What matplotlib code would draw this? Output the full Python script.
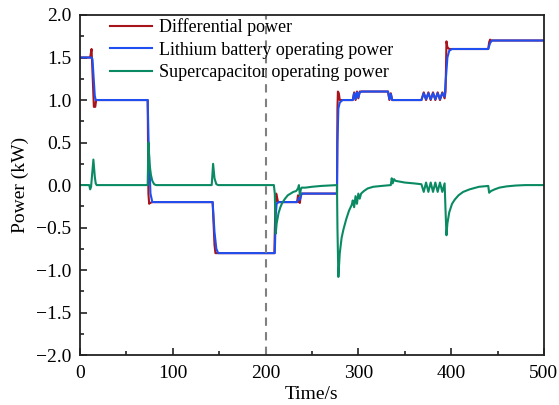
import numpy as np
import matplotlib
matplotlib.use('Agg')
import matplotlib.pyplot as plt
from matplotlib.ticker import MultipleLocator

plt.rcParams['font.family'] = ['Liberation Serif', 'DejaVu Serif']
plt.rcParams['mathtext.fontset'] = 'stix'

# differential power
t_diff = [0, 11, 12.5, 14, 15, 16.5, 17.5, 73, 73.8, 74.6, 75.5, 78, 143, 145, 146, 209.5,
          210.5, 211.5, 212.5, 213.5, 234, 235, 236, 237, 238, 239, 277, 277.5, 278, 279,
          280, 294, 295.5, 297, 298.5, 300, 301.5, 304, 332, 333.5, 335, 336.5, 368,
          370.5, 373, 375.5, 378, 380.5, 383, 385.5, 388, 390.5, 393, 394, 395, 396, 398,
          440, 441, 442, 443, 500]
p_diff = [1.5, 1.5, 1.6, 1.2, 0.92, 0.92, 1.0, 1.0, -0.1, -0.22, -0.21, -0.2, -0.2, -0.7, -0.8, -0.8,
          -0.3, -0.1, -0.15, -0.2, -0.2, -0.12, -0.2, -0.21, -0.12, -0.1, -0.1, 0.9, 1.1, 1.08,
          1.0, 1.0, 1.09, 1.0, 1.1, 1.02, 1.1, 1.1, 1.1, 1.0, 1.08, 1.0, 1.0,
          1.09, 1.0, 1.09, 1.0, 1.09, 1.0, 1.09, 1.0, 1.09, 1.02, 1.1, 1.69, 1.62, 1.6,
          1.6, 1.68, 1.71, 1.7, 1.7]

# lithium battery operating power
t_bat = [0, 12.5, 13.5, 16, 17, 73, 74, 76, 78, 143, 145, 147, 149, 210, 211, 212, 214,
         234, 236, 237, 239, 277, 277.5, 278.5, 280, 283, 294, 295.5, 297, 298.5, 300,
         301.5, 304, 332, 333.5, 335, 336.5, 368, 370.5, 373, 375.5, 378, 380.5, 383,
         385.5, 388, 390.5, 393, 394, 396, 398, 401, 440, 442, 444, 500]
p_bat = [1.5, 1.5, 1.48, 1.05, 1.0, 1.0, 0.5, -0.1, -0.2, -0.2, -0.55, -0.75, -0.8, -0.8, -0.35, -0.22, -0.2,
         -0.2, -0.15, -0.17, -0.1, -0.1, 0.5, 0.9, 0.97, 1.0, 1.0, 1.08, 1.01, 1.09, 1.03,
         1.09, 1.1, 1.1, 1.01, 1.07, 1.0, 1.0, 1.08, 1.01, 1.08, 1.01, 1.08, 1.01,
         1.08, 1.01, 1.08, 1.04, 1.2, 1.5, 1.58, 1.6, 1.6, 1.67, 1.7, 1.7]

# supercapacitor operating power
t_sc = [0, 10, 11, 12, 14.5, 16, 17, 18, 73, 73.8, 75, 76.5, 78, 80, 82, 142, 143.5, 145,
        147, 149, 209, 210, 211, 212, 214, 216, 218, 221, 224, 227, 230, 233, 235, 236,
        237, 238, 239, 243, 250, 260, 277, 277.5, 278.5, 280, 282, 284, 287, 290, 293,
        294, 295.5, 297, 298.5, 300, 301.5, 303, 306, 310, 316, 325, 335, 336, 337,
        338.5, 340, 350, 360, 368, 370.5, 373, 375.5, 378, 380.5, 383, 385.5, 388, 390.5,
        393, 394, 395, 396, 398, 401, 404, 408, 413, 420, 430, 440, 441, 443, 447, 452,
        460, 470, 480, 500]
p_sc = [0, 0, -0.05, -0.02, 0.3, 0.1, 0.02, 0, 0, 0.5, 0.25, 0.12, 0.05, 0.01, 0, 0, 0.25, 0.08,
        0.01, 0, 0, -0.1, -0.57, -0.45, -0.33, -0.26, -0.21, -0.16, -0.12, -0.1, -0.08, -0.07, -0.04, 0.0,
        -0.12, -0.05, -0.03, -0.03, -0.02, -0.01, 0, -0.5, -1.08, -0.8, -0.62, -0.52, -0.4, -0.3, -0.23,
        -0.18, -0.26, -0.13, -0.22, -0.1, -0.16, -0.1, -0.07, -0.04, -0.02, -0.01, 0, 0.08, 0.02,
        0.07, 0.05, 0.03, 0.02, 0.01, -0.08, 0.03, -0.08, 0.03, -0.08, 0.03, -0.08, 0.03, -0.08,
        0.02, -0.3, -0.59, -0.45, -0.32, -0.22, -0.17, -0.12, -0.08, -0.05, -0.02, -0.01, -0.09, -0.07, -0.05, -0.03,
        -0.015, -0.005, 0, 0]

fig = plt.figure(figsize=(5.59, 4.05), dpi=100)
ax = fig.add_axes([0.143, 0.123, 0.83, 0.84])

ax.plot(t_diff, p_diff, color='#a8141c', lw=1.5, label='Differential power')
ax.plot(t_bat, p_bat, color='#1f4ff0', lw=1.5, label='Lithium battery operating power')
ax.plot(t_sc, p_sc, color='#0a8a62', lw=1.5, label='Supercapacitor operating power')
ax.axvline(200, color='#808080', ls='--', lw=1.5, dashes=(4, 3))

ax.set_xlim(0, 500)
ax.set_ylim(-2.0, 2.0)
ax.xaxis.set_major_locator(MultipleLocator(100))
ax.xaxis.set_minor_locator(MultipleLocator(50))
ax.yaxis.set_major_locator(MultipleLocator(0.5))
ax.yaxis.set_minor_locator(MultipleLocator(0.25))
ax.yaxis.set_major_formatter(plt.FuncFormatter(lambda v, p: f'{v:.1f}'.replace('-', '\u2212')))
ax.tick_params(which='both', direction='in', labelsize=14, color='#222222')
ax.tick_params(which='major', length=5, width=1.2)
ax.tick_params(which='minor', length=3, width=1.2)
ax.tick_params(axis='y', pad=6)
ax.tick_params(axis='x', pad=7)
for s in ax.spines.values():
    s.set_linewidth(1.3)
    s.set_color('#222222')

ax.set_xlabel('Time/s', fontsize=14, labelpad=3)
ax.set_ylabel('Power (kW)', fontsize=14, labelpad=5)

ax.legend(loc='upper left', bbox_to_anchor=(0.03, 1.039), frameon=False, fontsize=13,
          handlelength=2.3, labelspacing=0.32, handletextpad=0.4)

fig.savefig('out.png', dpi=100)
